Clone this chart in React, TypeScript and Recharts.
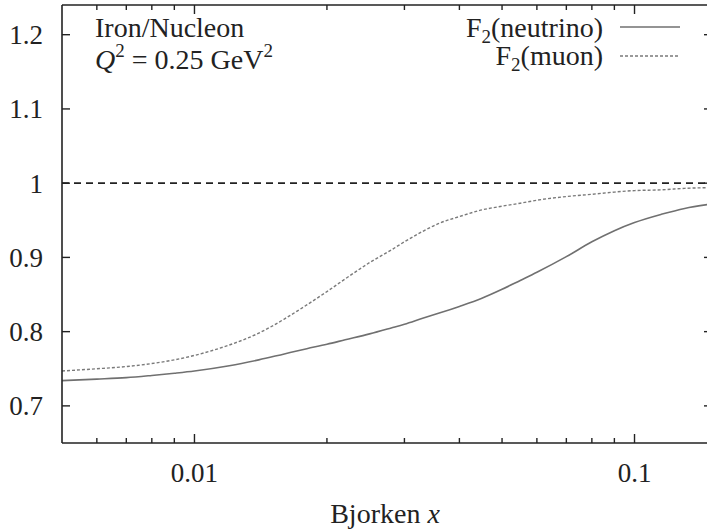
import { Line, LineChart, ReferenceLine, XAxis, YAxis } from "recharts";

const bjorkenX = [
  0.005, 0.006, 0.007, 0.008, 0.009, 0.01, 0.012, 0.014, 0.016, 0.018, 0.02, 0.022, 0.025, 0.028, 0.03,
  0.033, 0.036, 0.04, 0.045, 0.05, 0.055, 0.06, 0.07, 0.08, 0.09, 0.1, 0.115, 0.13, 0.15,
];
const neutrino = [
  0.734, 0.736, 0.738, 0.741, 0.744, 0.747, 0.754, 0.762, 0.77, 0.777, 0.783, 0.789, 0.797, 0.805, 0.81,
  0.818, 0.825, 0.834, 0.845, 0.857, 0.869, 0.88, 0.901, 0.921, 0.936, 0.947, 0.958, 0.966, 0.972,
];
const muon = [
  0.747, 0.75, 0.753, 0.757, 0.762, 0.768, 0.782, 0.798, 0.817, 0.836, 0.854, 0.871, 0.893, 0.91, 0.921,
  0.935, 0.946, 0.955, 0.964, 0.969, 0.973, 0.977, 0.982, 0.985, 0.988, 0.99, 0.991, 0.993, 0.994,
];

const xTicks = [
  0.006, 0.007, 0.008, 0.009, 0.01, 0.02, 0.03, 0.04, 0.05, 0.06, 0.07, 0.08, 0.09, 0.1,
];
const xLabelled = [0.01, 0.1];
const yTicks = [0.7, 0.8, 0.9, 1, 1.1, 1.2];

const data = bjorkenX.map((x, i) => ({ x, neutrino: neutrino[i], muon: muon[i] }));

const ink = "#222";
const serif = "Liberation Serif";

const BottomTick = (props: any) => {
  const { x, y, payload } = props;
  const major = xLabelled.includes(payload.value);
  return (
    <g>
      <line x1={x} x2={x} y1={y} y2={y - (major ? 9 : 5)} stroke={ink} strokeWidth={1.4} />
      {major ? (
        <text x={x} y={y + 39} textAnchor="middle" fontSize={27} fontFamily={serif} fill={ink}>
          {payload.value}
        </text>
      ) : null}
    </g>
  );
};

const TopTick = (props: any) => {
  const { x, y, payload } = props;
  const major = xLabelled.includes(payload.value);
  return <line x1={x} x2={x} y1={y} y2={y + (major ? 9 : 5)} stroke={ink} strokeWidth={1.4} />;
};

const LeftTick = (props: any) => {
  const { x, y, payload } = props;
  return (
    <g>
      <line x1={x} x2={x + 8} y1={y} y2={y} stroke={ink} strokeWidth={1.4} />
      <text x={x - 19} y={y} dy="0.35em" textAnchor="end" fontSize={27} fontFamily={serif} fill={ink}>
        {String(payload.value)}
      </text>
    </g>
  );
};

const RightTick = (props: any) => {
  const { x, y } = props;
  return <line x1={x} x2={x - 8} y1={y} y2={y} stroke={ink} strokeWidth={1.4} />;
};

const axisLine = { stroke: ink, strokeWidth: 1.6 };

export default function App() {
  return (
    <div style={{ position: "absolute", left: 0, top: 0, width: 707, height: 530, overflow: "hidden", background: "#fff" }}>
      <LineChart width={713} height={530} data={data} margin={{ top: 4, right: 0, bottom: 86, left: 61 }}>
        <XAxis
          xAxisId="b"
          dataKey="x"
          type="number"
          scale="log"
          domain={[0.005, 0.15]}
          allowDataOverflow
          ticks={xTicks}
          interval={0}
          height={1}
          tickSize={0}
          tickMargin={0}
          tickLine={false}
          axisLine={axisLine}
          tick={<BottomTick />}
        />
        <XAxis
          xAxisId="t"
          orientation="top"
          dataKey="x"
          type="number"
          scale="log"
          domain={[0.005, 0.15]}
          allowDataOverflow
          ticks={xTicks}
          interval={0}
          height={1}
          tickSize={0}
          tickMargin={0}
          tickLine={false}
          axisLine={axisLine}
          tick={<TopTick />}
        />
        <YAxis
          yAxisId="l"
          type="number"
          domain={[0.65, 1.24]}
          allowDataOverflow
          ticks={yTicks}
          interval={0}
          width={1}
          tickSize={0}
          tickMargin={0}
          tickLine={false}
          axisLine={axisLine}
          tick={<LeftTick />}
        />
        <YAxis
          yAxisId="r"
          orientation="right"
          type="number"
          domain={[0.65, 1.24]}
          allowDataOverflow
          ticks={yTicks}
          interval={0}
          width={1}
          tickSize={0}
          tickMargin={0}
          tickLine={false}
          axisLine={axisLine}
          tick={<RightTick />}
        />
        <ReferenceLine xAxisId="b" yAxisId="l" y={1} stroke={ink} strokeWidth={1.6} strokeDasharray="7 5" />
        <Line
          xAxisId="b"
          yAxisId="l"
          type="monotone"
          dataKey="neutrino"
          stroke="#707070"
          strokeWidth={1.6}
          dot={false}
          isAnimationActive={false}
        />
        <Line
          xAxisId="b"
          yAxisId="l"
          type="monotone"
          dataKey="muon"
          stroke="#7a7a7a"
          strokeWidth={1.4}
          strokeDasharray="3 2"
          dot={false}
          isAnimationActive={false}
        />
      </LineChart>
      <svg width={707} height={530} style={{ position: "absolute", left: 0, top: 0, pointerEvents: "none" }}>
        <g fontFamily={serif} fontSize={28} fill={ink}>
          <text x={95} y={37}>Iron/Nucleon</text>
          <text x={95} y={69}>
            <tspan fontStyle="italic">Q</tspan>
            <tspan fontSize={19} dy={-12}>2</tspan>
            <tspan dy={12}> = 0.25 GeV</tspan>
            <tspan fontSize={19} dy={-12}>2</tspan>
          </text>
          <text x={603} y={37} textAnchor="end">
            F<tspan fontSize={19} dy={6}>2</tspan>
            <tspan dy={-6}>(neutrino)</tspan>
          </text>
          <text x={603} y={65} textAnchor="end">
            F<tspan fontSize={19} dy={6}>2</tspan>
            <tspan dy={-6}>(muon)</tspan>
          </text>
          <text x={385} y={523} textAnchor="middle">
            Bjorken <tspan fontStyle="italic">x</tspan>
          </text>
        </g>
        <line x1={620} x2={680} y1={27} y2={27} stroke="#707070" strokeWidth={1.6} />
        <line x1={620} x2={680} y1={56} y2={56} stroke="#7a7a7a" strokeWidth={1.4} strokeDasharray="3 2" />
      </svg>
    </div>
  );
}
